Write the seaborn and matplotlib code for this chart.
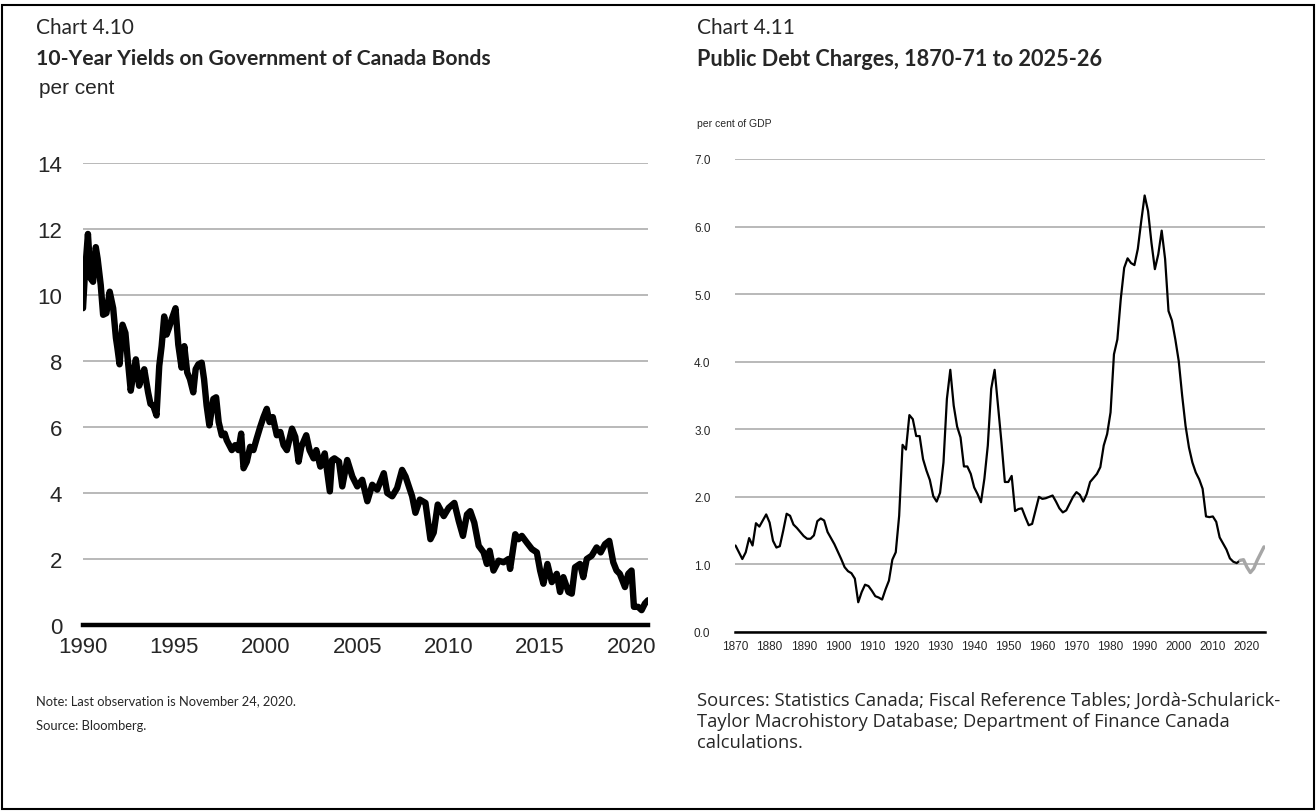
import matplotlib
matplotlib.use("Agg")
import matplotlib.pyplot as plt
from matplotlib.patches import Rectangle
import pandas as pd
import seaborn as sns

# Chart 4.10 - 10-year GoC bond yields (decimal year, per cent)
yield_dates = [
    1990.00, 1990.10, 1990.27, 1990.42, 1990.55, 1990.70, 1990.80, 1990.97,
    1991.10, 1991.28, 1991.46, 1991.65, 1991.80, 1991.88, 1992.00, 1992.16,
    1992.32, 1992.43, 1992.61, 1992.75, 1992.89, 1993.07, 1993.20, 1993.35,
    1993.56, 1993.69, 1993.84, 1994.02, 1994.17, 1994.30, 1994.44, 1994.57,
    1994.70, 1994.84, 1995.06, 1995.21, 1995.39, 1995.54, 1995.70, 1995.85,
    1996.03, 1996.16, 1996.31, 1996.49, 1996.62, 1996.76, 1996.91, 1997.13,
    1997.28, 1997.42, 1997.59, 1997.75, 1997.86, 1998.00, 1998.14, 1998.32,
    1998.50, 1998.65, 1998.78, 1998.96, 1999.14, 1999.32, 1999.50, 1999.69,
    1999.87, 2000.05, 2000.20, 2000.38, 2000.60, 2000.79, 2000.97, 2001.15,
    2001.43, 2001.61, 2001.79, 2001.94, 2002.21, 2002.39, 2002.61, 2002.76,
    2002.98, 2003.22, 2003.50, 2003.62, 2003.75, 2004.00, 2004.18, 2004.45,
    2004.73, 2005.00, 2005.27, 2005.55, 2005.82, 2006.09, 2006.45, 2006.64,
    2006.91, 2007.18, 2007.45, 2007.64, 2008.00, 2008.18, 2008.42, 2008.73,
    2009.00, 2009.18, 2009.40, 2009.73, 2010.00, 2010.31, 2010.55, 2010.78,
    2011.00, 2011.18, 2011.40, 2011.64, 2011.91, 2012.09, 2012.24, 2012.45,
    2012.73, 2013.00, 2013.27, 2013.36, 2013.64, 2013.82, 2014.00, 2014.27,
    2014.55, 2014.82, 2015.00, 2015.18, 2015.40, 2015.64, 2015.91, 2016.09,
    2016.27, 2016.55, 2016.73, 2016.91, 2017.18, 2017.36, 2017.55, 2017.82,
    2018.09, 2018.31, 2018.55, 2018.78, 2019.00, 2019.18, 2019.36, 2019.64,
    2019.82, 2020.00, 2020.13, 2020.36, 2020.55, 2020.73, 2020.90,
]
yield_values = [
    9.6, 10.6, 11.85, 10.5, 10.4, 11.45, 11.1, 10.3,
    9.4, 9.45, 10.1, 9.6, 8.7, 8.4, 7.9, 9.1,
    8.85, 8.15, 7.1, 7.6, 8.05, 7.25, 7.5, 7.75,
    7.05, 6.7, 6.65, 6.35, 7.85, 8.45, 9.35, 8.8,
    9.0, 9.25, 9.6, 8.5, 7.8, 8.45, 7.65, 7.45,
    7.05, 7.75, 7.9, 7.95, 7.45, 6.65, 6.05, 6.85,
    6.9, 6.15, 5.75, 5.8, 5.6, 5.45, 5.3, 5.45,
    5.3, 5.8, 4.75, 4.95, 5.4, 5.3, 5.65, 6.0,
    6.3, 6.55, 6.15, 6.3, 5.75, 5.85, 5.45, 5.3,
    5.95, 5.7, 4.95, 5.4, 5.75, 5.3, 5.05, 5.3,
    4.8, 5.2, 4.05, 5.0, 5.05, 4.95, 4.2, 5.0,
    4.5, 4.2, 4.4, 3.75, 4.25, 4.1, 4.6, 4.0,
    3.9, 4.15, 4.7, 4.5, 3.9, 3.4, 3.8, 3.7,
    2.6, 2.8, 3.65, 3.3, 3.55, 3.7, 3.15, 2.7,
    3.35, 3.45, 3.1, 2.4, 2.2, 1.85, 2.25, 1.65,
    1.95, 1.9, 2.0, 1.7, 2.75, 2.6, 2.7, 2.5,
    2.3, 2.2, 1.65, 1.25, 1.85, 1.3, 1.55, 1.0,
    1.45, 1.0, 0.95, 1.75, 1.85, 1.45, 2.0, 2.1,
    2.35, 2.2, 2.45, 2.55, 1.9, 1.65, 1.55, 1.15,
    1.55, 1.65, 0.55, 0.55, 0.45, 0.65, 0.75,
]
yield_ticks = [0, 2, 4, 6, 8, 10, 12, 14]
yield_year_ticks = [1990, 1995, 2000, 2005, 2010, 2015, 2020]

# Chart 4.11 - public debt charges, per cent of GDP, fiscal years 1870-71 .. 2025-26
debt_years = list(range(1870, 2026))
debt_values = [
    1.28, 1.18, 1.08, 1.18, 1.39, 1.28, 1.61, 1.56, 1.65, 1.74,  # 1870s
    1.62, 1.35, 1.25, 1.27, 1.50, 1.75, 1.72, 1.59, 1.54, 1.48,  # 1880s
    1.42, 1.38, 1.38, 1.43, 1.64, 1.68, 1.65, 1.48, 1.39, 1.30,  # 1890s
    1.19, 1.08, 0.96, 0.90, 0.87, 0.79, 0.44, 0.59, 0.70, 0.68,  # 1900s
    0.61, 0.53, 0.51, 0.48, 0.63, 0.76, 1.07, 1.18, 1.72, 2.77,  # 1910s
    2.70, 3.21, 3.15, 2.90, 2.90, 2.56, 2.39, 2.25, 2.01, 1.93,  # 1920s
    2.06, 2.51, 3.45, 3.88, 3.35, 3.04, 2.88, 2.45, 2.45, 2.34,  # 1930s
    2.14, 2.04, 1.92, 2.27, 2.76, 3.60, 3.88, 3.35, 2.81, 2.22,  # 1940s
    2.22, 2.31, 1.79, 1.82, 1.83, 1.70, 1.58, 1.60, 1.80, 2.00,  # 1950s
    1.97, 1.98, 2.00, 2.02, 1.93, 1.83, 1.77, 1.80, 1.90, 2.00,  # 1960s
    2.07, 2.03, 1.93, 2.04, 2.22, 2.28, 2.34, 2.44, 2.76, 2.93,  # 1970s
    3.25, 4.11, 4.33, 4.93, 5.39, 5.53, 5.46, 5.43, 5.67, 6.08,  # 1980s
    6.46, 6.23, 5.76, 5.37, 5.59, 5.94, 5.52, 4.75, 4.61, 4.33,  # 1990s
    4.01, 3.50, 3.05, 2.73, 2.51, 2.36, 2.26, 2.12, 1.71, 1.70,  # 2000s
    1.71, 1.63, 1.40, 1.31, 1.22, 1.09, 1.04, 1.02, 1.06, 1.07,  # 2010s
    0.96, 0.88, 0.94, 1.06, 1.16, 1.26,                          # 2020s
]
last_actual = 2018
debt_ticks = [0, 1, 2, 3, 4, 5, 6, 7]
debt_year_ticks = list(range(1870, 2021, 10))

yields = pd.DataFrame({"date": yield_dates, "value": yield_values})
debt = pd.DataFrame({"year": debt_years, "value": debt_values})
actual = debt[debt["year"] <= last_actual]
proj = debt[debt["year"] >= last_actual]

sns.set_style("white")
plt.rcParams["font.family"] = ["Liberation Sans", "DejaVu Sans"]

W, H = 1316, 812
fig = plt.figure(figsize=(W / 100, H / 100), dpi=100)


def fx(x):
    return x / W


def fy(y):
    return 1 - y / H


grid_col = "#a6a6a6"
head_font = ["Lato", "DejaVu Sans"]
wide_font = ["Open Sans", "DejaVu Sans"]

# ---- left chart ----
ax1 = fig.add_axes([fx(83), fy(626), fx(648 - 83), (626 - 164) / H])
sns.lineplot(data=yields, x="date", y="value", ax=ax1, color="black",
             linewidth=4.6, sort=False, estimator=None)
ax1.set_xlim(1990, 2020.9)
ax1.set_ylim(0, 14)
ax1.set_yticks(yield_ticks)
ax1.set_xticks(yield_year_ticks)
ax1.yaxis.grid(True, color=grid_col, linewidth=1.1)
ax1.set_axisbelow(True)
for s in ["left", "right", "top"]:
    ax1.spines[s].set_visible(False)
ax1.spines["bottom"].set_linewidth(3.2)
ax1.spines["bottom"].set_color("black")
ax1.tick_params(axis="y", length=0, pad=15, labelsize=16)
ax1.tick_params(axis="x", direction="out", length=3, width=2.5, color="black",
                pad=5, labelsize=16)
ax1.set_xlabel("")
ax1.set_ylabel("")

# ---- right chart ----
ax2 = fig.add_axes([fx(735.5), fy(633), fx(1265 - 735.5), (633 - 160) / H])
sns.lineplot(data=actual, x="year", y="value", ax=ax2, color="black",
             linewidth=1.6, estimator=None)
sns.lineplot(data=proj, x="year", y="value", ax=ax2, color="#a6a6a6",
             linewidth=2.4, estimator=None)
ax2.set_xlim(1870, 2025.3)
ax2.set_ylim(0, 7)
ax2.set_yticks(debt_ticks)
ax2.set_yticklabels([f"{t:.1f}" for t in debt_ticks])
ax2.set_xticks(debt_year_ticks)
ax2.yaxis.grid(True, color=grid_col, linewidth=1.1)
ax2.set_axisbelow(True)
for s in ["left", "right", "top"]:
    ax2.spines[s].set_visible(False)
ax2.spines["bottom"].set_linewidth(1.8)
ax2.spines["bottom"].set_color("black")
ax2.tick_params(axis="y", length=0, pad=18, labelsize=8.5)
ax2.tick_params(axis="x", direction="out", length=3, width=1.3, color="black",
                pad=3, labelsize=8.5)
ax2.set_xlabel("")
ax2.set_ylabel("")

# ---- headings ----
fig.text(fx(36), fy(28), "Chart 4.10", fontsize=15, family=head_font, va="center")
fig.text(fx(36), fy(59), "10-Year Yields on Government of Canada Bonds",
         fontsize=15.2, fontweight="bold", family=head_font, va="center")
fig.text(fx(39), fy(88), "per cent", fontsize=15, va="center")

fig.text(fx(697), fy(28), "Chart 4.11", fontsize=15, family=head_font, va="center")
fig.text(fx(697), fy(59), "Public Debt Charges, 1870-71 to 2025-26",
         fontsize=15.6, fontweight="bold", family=head_font, va="center")
fig.text(fx(697), fy(124), "per cent of GDP", fontsize=7.5, va="center")

# ---- notes ----
fig.text(fx(36), fy(701), "Note: Last observation is November 24, 2020.",
         fontsize=9.3, family=head_font, va="center")
fig.text(fx(36), fy(726), "Source: Bloomberg.",
         fontsize=9.3, family=head_font, va="center")
fig.text(fx(697), fy(701),
         "Sources: Statistics Canada; Fiscal Reference Tables; Jordà-Schularick-",
         fontsize=13.2, family=wide_font, va="center")
fig.text(fx(697), fy(722),
         "Taylor Macrohistory Database; Department of Finance Canada",
         fontsize=13.2, family=wide_font, va="center")
fig.text(fx(697), fy(743), "calculations.",
         fontsize=13.2, family=wide_font, va="center")

# outer frame
fig.patches.append(Rectangle((fx(2), fy(810)), fx(1312), (810 - 6) / H,
                             transform=fig.transFigure, fill=False,
                             edgecolor="black", linewidth=1.5))

fig.savefig("out.png", dpi=100)
